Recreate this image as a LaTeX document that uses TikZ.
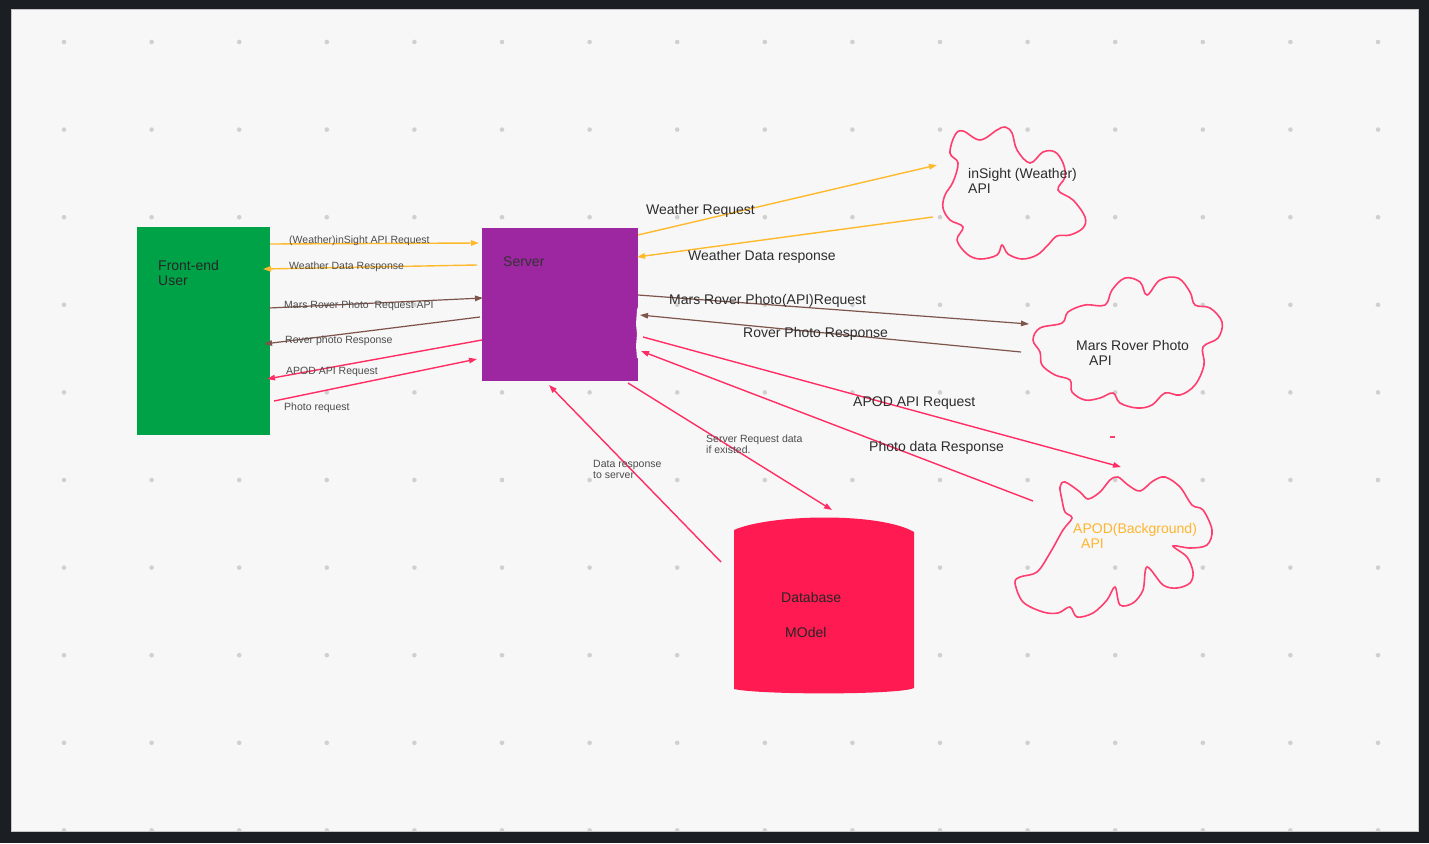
\documentclass[tikz,border=0pt]{standalone}
\usepackage{fontspec}
\setmainfont{Liberation Sans}
\usetikzlibrary{arrows.meta}
\definecolor{frameC}{RGB}{27,30,34}
\definecolor{canvasC}{RGB}{247,247,247}
\definecolor{dotC}{RGB}{208,208,208}
\definecolor{feGreen}{RGB}{0,162,72}
\definecolor{srvPurple}{RGB}{156,39,160}
\definecolor{dbRed}{RGB}{255,26,82}
\definecolor{pinkL}{RGB}{255,45,100}
\definecolor{cloudC}{RGB}{255,62,112}
\definecolor{orangeL}{RGB}{255,185,45}
\definecolor{brownL}{RGB}{125,85,75}
\definecolor{txtC}{RGB}{45,45,45}
\definecolor{apodC}{RGB}{255,181,46}
\tikzset{
  arr/.style={-{Triangle[length=8pt,width=5.5pt]}, line width=1.4pt},
  orangeArr/.style={arr, draw=orangeL},
  brownArr/.style={arr, draw=brownL, line width=1.2pt},
  pinkArr/.style={arr, draw=pinkL},
  cloudLine/.style={draw=cloudC, line width=1.6pt},
  bigLbl/.style={font=\fontsize{14}{14.5}\selectfont, text=txtC, inner sep=0pt, anchor=base west, align=left},
  smallLbl/.style={font=\fontsize{10.5}{11}\selectfont, text=txtC!85, inner sep=0pt, anchor=base west, align=left},
  boxShape/.style={draw=none, inner sep=0pt, anchor=north west}
}
\begin{document}
\begin{tikzpicture}[x=1pt,y=-1pt]
\useasboundingbox (0,0) rectangle (1429,843);
\fill[frameC] (0,0) rectangle (1429,843);
\fill[canvasC] (11,9) rectangle (1418,831);
\begin{scope}
  \clip (11,9) rectangle (1418,831);
  \foreach \i in {0,...,15}
    \foreach \j in {0,...,9}
      \fill[dotC] ({64+87.6*\i},{42+87.6*\j}) circle (2.3);
\end{scope}
\draw[gray!45, line width=0.8pt] (11,9) rectangle (1418,831);

% Front-end box
\node[boxShape, fill=feGreen, minimum width=133pt, minimum height=208pt] (fe) at (137,227) {};
\node[bigLbl, text=black!85] (feText) at (158,285) {Front-end\\User};

% Server box
\node[boxShape, fill=srvPurple, minimum width=156pt, minimum height=153pt] (srv) at (482,228) {};
\fill[canvasC] (639,303) -- (637,310) -- (636,324) -- (637,334) -- (636,346) -- (637,358) -- (639,358) -- cycle;
\node[bigLbl, text=black!80] (srvText) at (503,266) {Server};

% Database
\fill[dbRed] (734,530) .. controls (770,514) and (880,512) .. (914,532)
  -- (914,688) .. controls (900,695) and (760,695) .. (734,689) -- cycle;
\node[bigLbl, text=black!85] (dbText1) at (781,602) {Database};
\node[bigLbl, text=black!85] (dbText2) at (785,637) {MOdel};

% Clouds
\draw[cloudLine] plot[smooth cycle, tension=0.6] coordinates {
 (950,153) (955,135) (963,131) (980,140) (997,130) (1005,127) (1012,133) (1017,150)
 (1030,163) (1043,152) (1055,152) (1063,163) (1065,177) (1058,190) (1073,200)
 (1085,217) (1083,228) (1070,235) (1057,236) (1048,245) (1037,255) (1022,259)
 (1008,254) (1002,245) (997,255) (980,259) (967,254) (957,240) (963,227)
 (950,220) (943,208) (945,195) (953,182) (958,163)};
\node[bigLbl] (insText) at (968,193) {inSight (Weather)\\API};

\draw[cloudLine] plot[smooth cycle, tension=0.6] coordinates {
 (1033,340) (1040,328) (1062,323) (1068,312) (1085,305) (1105,305) (1112,290)
 (1125,278) (1140,282) (1147,295) (1160,280) (1178,278) (1190,292) (1195,305)
 (1210,308) (1222,322) (1218,338) (1203,347) (1204,365) (1195,385) (1180,395)
 (1165,393) (1152,405) (1137,408) (1120,403) (1113,393) (1100,398) (1085,400)
 (1072,392) (1070,380) (1055,375) (1042,365) (1040,352)};
\node[bigLbl] (marsText) at (1076,365) {Mars Rover Photo\\\hspace*{13pt}API};

\draw[cloudLine] plot[smooth cycle, tension=0.55] coordinates {
 (1060,487) (1065,482) (1080,492) (1088,499) (1100,492) (1110,480) (1118,477)
 (1128,485) (1140,491) (1153,481) (1165,477) (1180,487) (1192,505) (1203,510)
 (1212,530) (1207,545) (1190,548) (1173,546) (1187,557) (1193,572) (1190,583)
 (1177,588) (1163,585) (1147,567) (1143,590) (1133,603) (1120,605) (1115,587)
 (1107,600) (1093,613) (1077,617) (1070,607) (1058,613) (1043,612) (1023,602)
 (1015,583) (1020,577) (1037,572) (1050,553) (1063,530) (1072,518) (1065,512)
 (1062,500)};
\node[bigLbl, text=apodC] (apodText) at (1073,548) {APOD(Background)\\\hspace*{8pt}API};
\draw[cloudC, line width=1.4pt] (1110,437) -- (1115,437);

% Connector endpoints
\coordinate (a1s) at (270,244); \coordinate (a1e) at (479,243);
\coordinate (a2s) at (477,265); \coordinate (a2e) at (263,269);
\coordinate (a3s) at (269,308); \coordinate (a3e) at (483,298);
\coordinate (a4s) at (480,317); \coordinate (a4e) at (264,344);
\coordinate (a5s) at (482,340); \coordinate (a5e) at (267,379);
\coordinate (a6s) at (274,401); \coordinate (a6e) at (477,359);
\coordinate (b1s) at (638,235); \coordinate (b1e) at (937,165);
\coordinate (b2s) at (933,217); \coordinate (b2e) at (637,257);
\coordinate (b3s) at (638,295); \coordinate (b3e) at (1029,324);
\coordinate (b4s) at (1021,352); \coordinate (b4e) at (640,315);
\coordinate (b5s) at (643,337); \coordinate (b5e) at (1121,467);
\coordinate (b6s) at (1033,501); \coordinate (b6e) at (641,351);
\coordinate (b7s) at (628,383); \coordinate (b7e) at (832,510);
\coordinate (b8s) at (721,562); \coordinate (b8e) at (549,385);

% Left connectors
\draw[orangeArr] (a1s) -- (a1e);
\draw[orangeArr] (a2s) -- (a2e);
\draw[brownArr] (a3s) -- (a3e);
\draw[brownArr] (a4s) -- (a4e);
\draw[pinkArr] (a5s) -- (a5e);
\draw[pinkArr] (a6s) -- (a6e);
% Right connectors
\draw[orangeArr] (b1s) -- (b1e);
\draw[orangeArr] (b2s) -- (b2e);
\draw[brownArr] (b3s) -- (b3e);
\draw[brownArr] (b4s) -- (b4e);
\draw[pinkArr] (b5s) -- (b5e);
\draw[pinkArr] (b6s) -- (b6e);
\draw[pinkArr] (b7s) -- (b7e);
\draw[pinkArr] (b8s) -- (b8e);

% Left labels
\node[smallLbl] (l1) at (289,243) {(Weather)inSight API Request};
\node[smallLbl] (l2) at (289,269) {Weather Data Response};
\node[smallLbl] (l3) at (284,308) {Mars Rover Photo \ Request API};
\node[smallLbl] (l4) at (285,343) {Rover photo Response};
\node[smallLbl] (l5) at (286,374) {APOD API Request};
\node[smallLbl] (l6) at (284,410) {Photo request};
% Right labels
\node[bigLbl] (r1) at (646,214) {Weather Request};
\node[bigLbl] (r2) at (688,260) {Weather Data response};
\node[bigLbl] (r3) at (669,304) {Mars Rover Photo(API)Request};
\node[bigLbl] (r4) at (743,337) {Rover Photo Response};
\node[bigLbl] (r5) at (853,406) {APOD API Request};
\node[bigLbl] (r6) at (869,451) {Photo data Response};
\node[smallLbl] (r7) at (706,453) {Server Request data\\if existed.};
\node[smallLbl] (r8) at (593,478) {Data response\\to server};
\end{tikzpicture}
\end{document}
